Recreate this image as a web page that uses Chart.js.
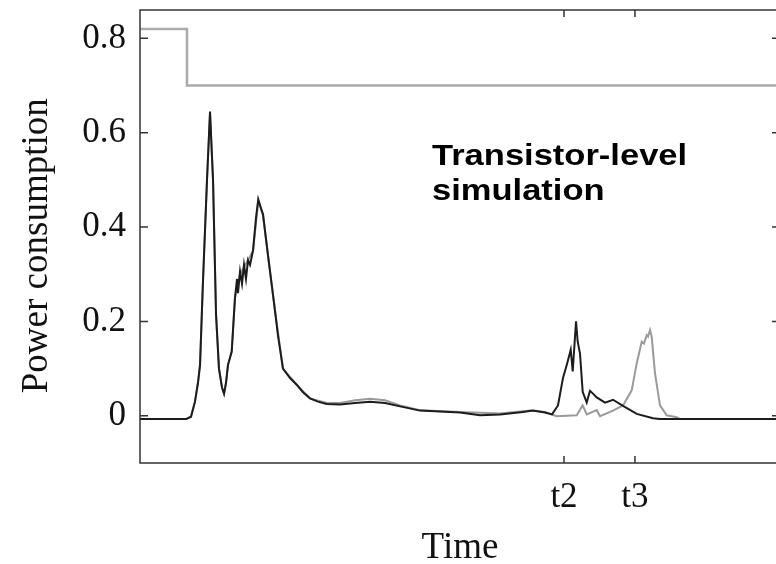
<!DOCTYPE html>
<html>
<head>
<meta charset="utf-8">
<script src="https://cdn.jsdelivr.net/npm/chart.js@4.4.1/dist/chart.umd.min.js"></script>
<style>
  html, body { margin: 0; padding: 0; overflow: hidden; background: #fff; }
  #wrap { width: 790px; height: 564px; }
</style>
</head>
<body>
<div id="wrap"><canvas id="powerChart" width="790" height="564"></canvas></div>
<script>
// transistor-level trace (black)
const blackTime = [0, 7.19, 7.97, 8.59, 9.06, 9.38, 9.84, 10.47, 10.94, 11.41, 11.88, 12.34, 12.81, 13.13,
  13.44, 13.75, 14.33, 14.84, 15.16, 15.31, 15.63, 15.94, 16.25, 16.56, 16.88, 17.19, 17.66, 18.13, 18.48,
  18.91, 19.22, 20.0, 20.78, 21.56, 22.34, 23.44, 24.48, 25.47, 26.56, 27.81, 29.17, 31.25, 33.59, 35.94,
  38.28, 40.63, 43.75, 46.88, 50.0, 53.13, 56.25, 59.84, 61.41, 63.28, 64.38, 65.31, 66.09, 66.72, 67.30,
  67.61, 68.13, 68.39, 68.75, 69.17, 69.80, 70.31, 70.78, 71.36, 72.66, 73.91, 75.47, 77.61, 80.16, 81.25, 100];
const blackPower = [-0.007, -0.007, -0.002, 0.03, 0.07, 0.108, 0.285, 0.5, 0.645, 0.5, 0.215, 0.1, 0.06, 0.047,
  0.07, 0.108, 0.136, 0.25, 0.29, 0.26, 0.306, 0.28, 0.32, 0.29, 0.33, 0.32, 0.35, 0.42, 0.459,
  0.44, 0.427, 0.34, 0.257, 0.17, 0.1, 0.08, 0.066, 0.05, 0.037, 0.03, 0.025, 0.024, 0.027, 0.03,
  0.027, 0.02, 0.011, 0.009, 0.007, 0.001, 0.003, 0.008, 0.011, 0.007, 0.003, 0.022, 0.08, 0.11, 0.14,
  0.094, 0.2, 0.157, 0.132, 0.051, 0.028, 0.053, 0.047, 0.039, 0.028, 0.034, 0.021, 0.004, -0.005, -0.007, -0.007];

// second trace (gray)
const grayTime = [0, 7.19, 7.97, 8.59, 9.06, 9.38, 9.84, 10.47, 10.94, 11.41, 11.88, 12.34, 12.81, 13.13,
  13.44, 13.75, 14.33, 14.84, 15.63, 16.88, 17.66, 18.48, 19.22, 20.78, 22.34, 24.48, 26.56, 29.17, 31.25,
  33.59, 35.94, 38.28, 40.63, 43.75, 50.0, 56.25, 60.94, 63.28, 65.11, 68.23, 69.17, 69.80, 71.36, 71.88,
  73.91, 75.47, 76.83, 77.61, 78.39, 78.75, 79.17, 79.38, 79.69, 79.95, 80.47, 81.25, 82.30, 83.86, 84.38, 100];
const grayPower = [-0.007, -0.007, -0.002, 0.03, 0.07, 0.108, 0.285, 0.5, 0.64, 0.5, 0.215, 0.1, 0.06, 0.047,
  0.07, 0.108, 0.136, 0.25, 0.3, 0.33, 0.35, 0.455, 0.425, 0.255, 0.1, 0.066, 0.037, 0.027, 0.027,
  0.033, 0.036, 0.033, 0.022, 0.012, 0.008, 0.005, 0.011, 0.008, -0.001, 0.001, 0.022, 0.003, 0.012, -0.001,
  0.011, 0.022, 0.054, 0.111, 0.157, 0.153, 0.171, 0.168, 0.182, 0.168, 0.09, 0.022, 0.001, -0.003, -0.007, -0.007];

// supply step (light gray)
const stepTime = [0, 7.34, 7.34, 100];
const stepPower = [0.82, 0.82, 0.70, 0.70];

const yTicks = [0, 0.2, 0.4, 0.6, 0.8];
const xTicks = [66.25, 77.34];
const xTickLabels = ["t2", "t3"];

const toPoints = (xs, ys) => xs.map((x, i) => ({ x: x, y: ys[i] }));

// frame, inward ticks and the annotation
const framePlugin = {
  id: "frame",
  afterDatasetsDraw: (chart) => {
    const { ctx, chartArea: a, scales } = chart;
    ctx.save();
    ctx.strokeStyle = "#333";
    ctx.lineWidth = 1.5;
    ctx.strokeRect(a.left, a.top, a.right - a.left, a.bottom - a.top);
    ctx.beginPath();
    yTicks.forEach((v) => {
      const y = scales.y.getPixelForValue(v);
      ctx.moveTo(a.left, y); ctx.lineTo(a.left + 8, y);
      ctx.moveTo(a.right, y); ctx.lineTo(a.right - 8, y);
    });
    xTicks.forEach((v) => {
      const x = scales.x.getPixelForValue(v);
      ctx.moveTo(x, a.bottom); ctx.lineTo(x, a.bottom - 7);
      ctx.moveTo(x, a.top); ctx.lineTo(x, a.top + 7);
    });
    ctx.stroke();

    ctx.fillStyle = "#000";
    ctx.font = "bold 29px 'Liberation Sans', Arial, sans-serif";
    ctx.textBaseline = "alphabetic";
    ctx.textAlign = "left";
    [["Transistor-level", 165], ["simulation", 200]].forEach(([t, y]) => {
      ctx.save();
      ctx.translate(432, y);
      ctx.scale(1.19, 1);
      ctx.fillText(t, 0, 0);
      ctx.restore();
    });
    ctx.restore();
  }
};

const serif = "'Liberation Serif', 'Times New Roman', serif";

new Chart(document.getElementById("powerChart").getContext("2d"), {
  type: "line",
  data: {
    datasets: [
      { data: toPoints(blackTime, blackPower), borderColor: "#1c1c1c", borderWidth: 2 },
      { data: toPoints(grayTime, grayPower), borderColor: "#9a9a9a", borderWidth: 2 },
      { data: toPoints(stepTime, stepPower), borderColor: "#aaaaaa", borderWidth: 2.5 }
    ]
  },
  options: {
    responsive: false,
    animation: false,
    events: [],
    layout: { padding: { top: 10, right: 10, left: 0, bottom: 0 } },
    elements: { point: { radius: 0 }, line: { tension: 0 } },
    plugins: { legend: { display: false }, tooltip: { enabled: false } },
    scales: {
      x: {
        type: "linear",
        min: 0,
        max: 100,
        grid: { display: false, drawTicks: false },
        border: { display: false },
        afterBuildTicks: (s) => { s.ticks = xTicks.map((v) => ({ value: v })); },
        afterFit: (s) => { s.height = 101; s.paddingLeft = 0; s.paddingRight = 0; },
        ticks: {
          autoSkip: false,
          maxRotation: 0,
          padding: 14,
          color: "#111",
          font: { family: serif, size: 35 },
          callback: (v, i) => xTickLabels[i]
        },
        title: {
          display: true,
          text: "Time",
          color: "#111",
          padding: 0,
          font: { family: serif, size: 37, lineHeight: 0.85 }
        }
      },
      y: {
        min: -0.1,
        max: 0.86,
        grid: { display: false, drawTicks: false },
        border: { display: false },
        afterBuildTicks: (s) => { s.ticks = yTicks.map((v) => ({ value: v })); },
        afterFit: (s) => { s.width = 140; s.paddingTop = 0; s.paddingBottom = 0; },
        ticks: {
          padding: 14,
          color: "#111",
          font: { family: serif, size: 35 },
          callback: (v) => (v === 0 ? "0" : v.toFixed(1))
        },
        title: {
          display: true,
          text: "Power consumption  ",
          color: "#111",
          padding: { top: 15, bottom: 0 },
          font: { family: serif, size: 37, lineHeight: 1.2 }
        }
      }
    }
  },
  plugins: [framePlugin]
});
</script>
</body>
</html>
